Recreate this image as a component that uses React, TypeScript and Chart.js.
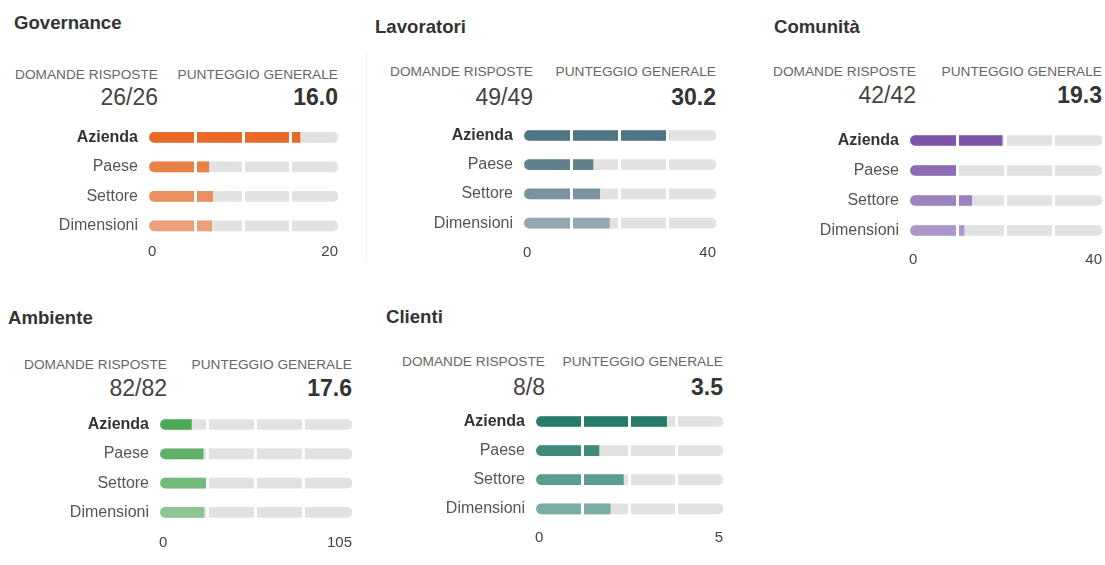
import React, { useEffect, useRef } from 'react';
import { Chart, registerables } from 'chart.js';

Chart.register(...registerables);

// ---------- data ----------
const PANEL_TITLES = ['Governance', 'Lavoratori', 'Comunità', 'Ambiente', 'Clienti'];
const ROW_LABELS = ['Azienda', 'Paese', 'Settore', 'Dimensioni'];
const ANSWERED = ['26/26', '49/49', '42/42', '82/82', '8/8'];
const SCORES = ['16.0', '30.2', '19.3', '17.6', '3.5'];
const AXIS_MAX = [20, 40, 40, 105, 5];
const HEADER_LEFT = 'DOMANDE RISPOSTE';
const HEADER_RIGHT = 'PUNTEGGIO GENERALE';

const governanceValues = [16.0, 6.4, 6.8, 6.7];
const lavoratoriValues = [30.2, 14.5, 15.9, 17.9];
const comunitaValues = [19.3, 10.0, 13.0, 11.4];
const ambienteValues = [17.6, 24.0, 26.4, 24.4];
const clientiValues = [3.5, 1.7, 2.35, 2.0];
const PANEL_VALUES = [governanceValues, lavoratoriValues, comunitaValues, ambienteValues, clientiValues];

// ---------- style ----------
const FONT = '"Liberation Sans", Arial, Helvetica, sans-serif';
const TRACK = '#e2e2e2';
const PANEL_COLORS = [
  ['#e86a27', '#e98045', '#ea8f5e', '#eba07c'],
  ['#4f7584', '#62818d', '#7a939f', '#93a8b2'],
  ['#7b56a9', '#8d6cb6', '#9d83c2', '#ac97cb'],
  ['#4da858', '#5fb068', '#72ba7a', '#8cc592'],
  ['#267b69', '#3f8b7b', '#5a9c8f', '#7aaea4'],
];

const LAYOUT = [
  { titleX: 14, titleY: 23, headY: 75, valY: 97, domRight: 158, trackL: 148, trackR: 338, row0: 137.3, step: 29.5, tickY: 252 },
  { titleX: 375, titleY: 27, headY: 72, valY: 97, domRight: 533, trackL: 523, trackR: 716, row0: 135.5, step: 29.2, tickY: 253 },
  { titleX: 774, titleY: 27, headY: 72, valY: 95, domRight: 916, trackL: 909, trackR: 1102, row0: 140.5, step: 30, tickY: 260 },
  { titleX: 8, titleY: 318, headY: 365, valY: 388, domRight: 167, trackL: 159, trackR: 352, row0: 424.5, step: 29.3, tickY: 543 },
  { titleX: 386, titleY: 317, headY: 362, valY: 387, domRight: 545, trackL: 535, trackR: 723, row0: 421.5, step: 29.1, tickY: 538 },
];

const LABEL_W = 140;
const PAD_RIGHT = 3;
const X_H = 30;
const TICK_FONT = 15;

function Text(props: { x: number; cy: number; size: number; text: string; right?: boolean; bold?: boolean; color: string }) {
  const { x, cy, size, text, right, bold, color } = props;
  const style: React.CSSProperties = {
    position: 'absolute',
    top: cy - 0.49 * size,
    fontFamily: FONT,
    fontSize: size,
    lineHeight: size + 'px',
    fontWeight: bold ? 'bold' : 'normal',
    color,
    whiteSpace: 'nowrap',
  };
  if (right) style.right = 1105 - x;
  else style.left = x;
  return <div style={style}>{text}</div>;
}

function Panel({ i }: { i: number }) {
  const ref = useRef<HTMLCanvasElement>(null);
  const L = LAYOUT[i];
  const trackW = L.trackR - L.trackL;
  const areaTop = L.row0 - L.step / 2;
  const canvasLeft = L.trackL - LABEL_W;
  const canvasTop = Math.floor(areaTop - 4);
  const padTop = areaTop - canvasTop;
  const W = LABEL_W + trackW + PAD_RIGHT;
  const H = Math.ceil(padTop + 4 * L.step + X_H);
  const xH = H - padTop - 4 * L.step;
  const tickPad = L.tickY - (areaTop + 4 * L.step) - (TICK_FONT * 1.2) / 2;

  useEffect(() => {
    const max = AXIS_MAX[i];
    const values = PANEL_VALUES[i];
    const colors = PANEL_COLORS[i];
    const chart = new Chart(ref.current as HTMLCanvasElement, {
      type: 'bar',
      data: {
        labels: ROW_LABELS,
        datasets: [
          {
            data: values,
            backgroundColor: colors,
            barThickness: 10,
            grouped: false,
            order: 0,
            borderSkipped: 'end',
            borderRadius: 5,
            borderWidth: 0,
          } as any,
          {
            data: ROW_LABELS.map(() => max),
            backgroundColor: TRACK,
            barThickness: 10,
            grouped: false,
            order: 1,
            borderSkipped: false,
            borderRadius: 5,
            borderWidth: 0,
          } as any,
        ],
      },
      options: {
        indexAxis: 'y',
        responsive: false,
        animation: false,
        events: [],
        layout: { padding: { top: padTop, right: PAD_RIGHT, left: 0, bottom: 0 } },
        plugins: { legend: { display: false }, tooltip: { enabled: false } },
        scales: {
          x: {
            type: 'linear',
            min: 0,
            max,
            afterBuildTicks: (s: any) => {
              s.ticks = [0, 1, 2, 3, 4].map((k) => ({ value: (max * k) / 4 }));
            },
            afterFit: (s: any) => {
              s.height = xH;
              s.paddingLeft = 0;
              s.paddingRight = 0;
            },
            ticks: {
              align: 'inner',
              padding: tickPad,
              color: '#444',
              maxRotation: 0,
              autoSkip: false,
              font: { family: FONT, size: TICK_FONT },
              callback: (v: any, idx: number, ticks: any[]) =>
                idx === 0 || idx === ticks.length - 1 ? String(v) : '',
            },
            grid: {
              z: 1,
              drawTicks: false,
              lineWidth: 3,
              color: (c: any) => (c.index > 0 && c.index < 4 ? '#ffffff' : 'rgba(0,0,0,0)'),
            },
            border: { display: false },
          },
          y: {
            afterFit: (s: any) => {
              s.width = LABEL_W;
              s.paddingTop = 0;
              s.paddingBottom = 0;
            },
            ticks: {
              padding: 10,
              color: (c: any) => (c.index === 0 ? '#333' : '#555'),
              font: (c: any) => ({ family: FONT, size: 16, weight: c.index === 0 ? 'bold' : 'normal' }),
            },
            grid: { display: false, drawTicks: false },
            border: { display: false },
          },
        },
      } as any,
    });
    return () => chart.destroy();
  }, [i]);

  return (
    <>
      <Text x={L.titleX} cy={L.titleY} size={18.6} bold text={PANEL_TITLES[i]} color="#333" />
      <Text x={L.domRight} cy={L.headY} size={13.7} right text={HEADER_LEFT} color="#666" />
      <Text x={L.trackR} cy={L.headY} size={13.7} right text={HEADER_RIGHT} color="#666" />
      <Text x={L.domRight} cy={L.valY} size={23} right text={ANSWERED[i]} color="#444" />
      <Text x={L.trackR} cy={L.valY} size={23} right bold text={SCORES[i]} color="#333" />
      <canvas
        ref={ref}
        width={W}
        height={H}
        style={{ position: 'absolute', left: canvasLeft, top: canvasTop, width: W, height: H }}
      />
    </>
  );
}

export default function App() {
  return (
    <div style={{ position: 'absolute', left: 0, top: 0, width: 1105, height: 565, background: '#fff', overflow: 'hidden' }}>
      <div style={{ position: 'absolute', left: 366, top: 52, width: 1, height: 210, background: '#f1f1f1' }} />
      {PANEL_TITLES.map((_, i) => (
        <Panel key={i} i={i} />
      ))}
    </div>
  );
}
